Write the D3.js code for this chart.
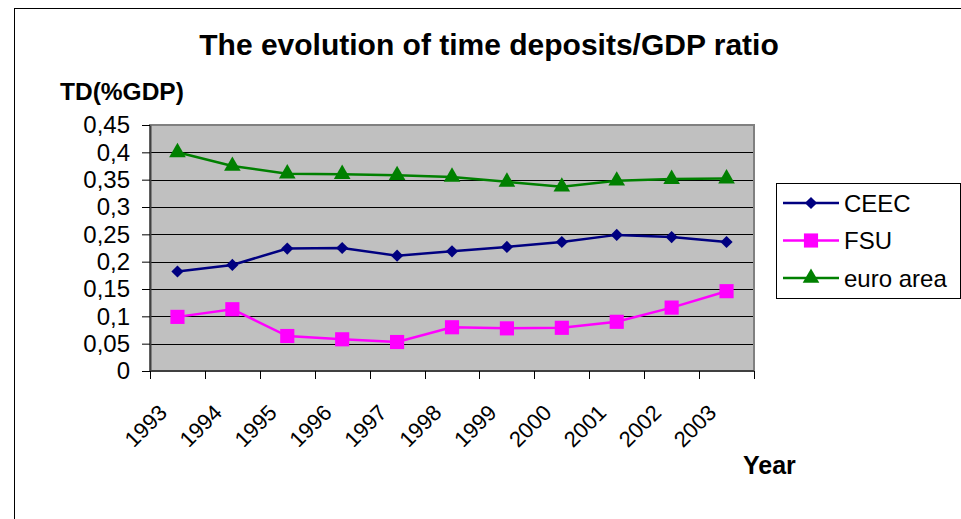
<!DOCTYPE html>
<html>
<head>
<meta charset="utf-8">
<script src="https://cdn.jsdelivr.net/npm/d3@7"></script>
<style>
  body { margin: 0; background: #fff; }
  svg { display: block; font-family: "Liberation Sans", Arial, sans-serif; }
</style>
</head>
<body>
<svg id="chart" width="961" height="519"></svg>
<script>
// data
var years = ["1993", "1994", "1995", "1996", "1997", "1998", "1999", "2000", "2001", "2002", "2003"];
var ceec = [0.182, 0.194, 0.224, 0.225, 0.211, 0.219, 0.227, 0.236, 0.249, 0.245, 0.236];
var fsu = [0.099, 0.113, 0.064, 0.058, 0.053, 0.080, 0.078, 0.079, 0.090, 0.116, 0.146];
var euro = [0.400, 0.375, 0.361, 0.360, 0.358, 0.355, 0.346, 0.337, 0.348, 0.351, 0.352];
var yTicks = [0, 0.05, 0.1, 0.15, 0.2, 0.25, 0.3, 0.35, 0.4, 0.45];

var series = [
  {name: "CEEC", values: ceec, color: "#000080", marker: "diamond"},
  {name: "FSU", values: fsu, color: "#ff00ff", marker: "square"},
  {name: "euro area", values: euro, color: "#008000", marker: "triangle"}
];

var svg = d3.select("#chart");
var plotL = 150, plotR = 754, plotT = 125, plotB = 371;

// outer chart border
svg.append("rect").attr("x", 14.5).attr("y", 8.5).attr("width", 960).attr("height", 520)
  .attr("fill", "none").attr("stroke", "#000").attr("stroke-width", 1);

var x = d3.scaleBand().domain(years).range([plotL, plotR]).padding(0);
var y = d3.scaleLinear().domain([0, 0.45]).range([plotB, plotT]);

// plot background
svg.append("rect").attr("x", plotL).attr("y", plotT).attr("width", plotR - plotL).attr("height", plotB - plotT)
  .attr("fill", "#c0c0c0");

// gridlines
svg.append("g").selectAll("line").data(yTicks.slice(1, -1)).enter().append("line")
  .attr("x1", plotL).attr("x2", plotR)
  .attr("y1", function(d){ return Math.round(y(d)) + 0.5; })
  .attr("y2", function(d){ return Math.round(y(d)) + 0.5; })
  .attr("stroke", "#000").attr("stroke-width", 1);

// plot border
svg.append("rect").attr("x", plotL).attr("y", plotT).attr("width", plotR - plotL).attr("height", plotB - plotT)
  .attr("fill", "none").attr("stroke", "#808080").attr("stroke-width", 2);

// y axis
var yAxis = d3.axisLeft(y).tickValues(yTicks).tickSize(8).tickSizeOuter(0)
  .tickFormat(function(d){ return String(d).replace(".", ","); });
var gy = svg.append("g").attr("transform", "translate(" + plotL + ",0)").call(yAxis);
gy.select(".domain").attr("stroke", "#404040").attr("stroke-width", 2);
gy.selectAll(".tick line").attr("stroke", "#000");
gy.selectAll(".tick text").attr("font-size", 24).attr("fill", "#000").attr("x", -20)
  .attr("font-family", "Liberation Sans, Arial, sans-serif");

// x axis: ticks at category boundaries
var gx = svg.append("g");
gx.append("line").attr("x1", plotL).attr("x2", plotR).attr("y1", plotB).attr("y2", plotB)
  .attr("stroke", "#404040").attr("stroke-width", 2);
var bounds = years.map(function(d){ return x(d); }).concat([plotR]);
gx.selectAll(".xt").data(bounds).enter().append("line")
  .attr("x1", function(d){ return Math.round(d) + 0.5; })
  .attr("x2", function(d){ return Math.round(d) + 0.5; })
  .attr("y1", plotB).attr("y2", plotB + 8)
  .attr("stroke", "#000");
gx.selectAll(".xl").data(years).enter().append("text")
  .attr("transform", function(d){
    var cx = x(d) + x.bandwidth() / 2;
    return "translate(" + (cx - 9) + "," + 414 + ") rotate(-45)";
  })
  .attr("text-anchor", "end").attr("font-size", 22)
  .text(function(d){ return d; });

// lines and markers
var line = d3.line()
  .x(function(d, i){ return x(years[i]) + x.bandwidth() / 2; })
  .y(function(d){ return y(d); });

function markerPath(type) {
  if (type === "diamond") return d3.symbol().type(d3.symbolDiamond2).size(95)();
  if (type === "square") return d3.symbol().type(d3.symbolSquare).size(200)();
  return d3.symbol().type(d3.symbolTriangle).size(120)();
}

series.forEach(function(s){
  svg.append("path").datum(s.values).attr("d", line)
    .attr("fill", "none").attr("stroke", s.color).attr("stroke-width", 2.5);
  svg.selectAll(null).data(s.values).enter().append("path")
    .attr("d", markerPath(s.marker))
    .attr("transform", function(d, i){
      return "translate(" + (x(years[i]) + x.bandwidth() / 2) + "," + y(d) + ")";
    })
    .attr("fill", s.color);
});

// title and axis titles
svg.append("text").attr("x", 489).attr("y", 55).attr("text-anchor", "middle")
  .attr("font-size", 30).attr("font-weight", "bold").text("The evolution of time deposits/GDP ratio");
svg.append("text").attr("x", 60).attr("y", 100)
  .attr("font-size", 24.5).attr("font-weight", "bold").text("TD(%GDP)");
svg.append("text").attr("x", 743).attr("y", 474)
  .attr("font-size", 25).attr("font-weight", "bold").text("Year");

// legend
var lg = svg.append("g");
lg.append("rect").attr("x", 776.5).attr("y", 183.5).attr("width", 184).attr("height", 115)
  .attr("fill", "#fff").attr("stroke", "#000");
series.forEach(function(s, i){
  var cy = 203 + i * 37.5;
  lg.append("line").attr("x1", 783).attr("x2", 839).attr("y1", cy).attr("y2", cy)
    .attr("stroke", s.color).attr("stroke-width", 2.5);
  lg.append("path").attr("d", markerPath(s.marker))
    .attr("transform", "translate(811," + cy + ")").attr("fill", s.color);
  lg.append("text").attr("x", 844).attr("y", cy + 8.5).attr("font-size", 24).text(s.name);
});
</script>
</body>
</html>
